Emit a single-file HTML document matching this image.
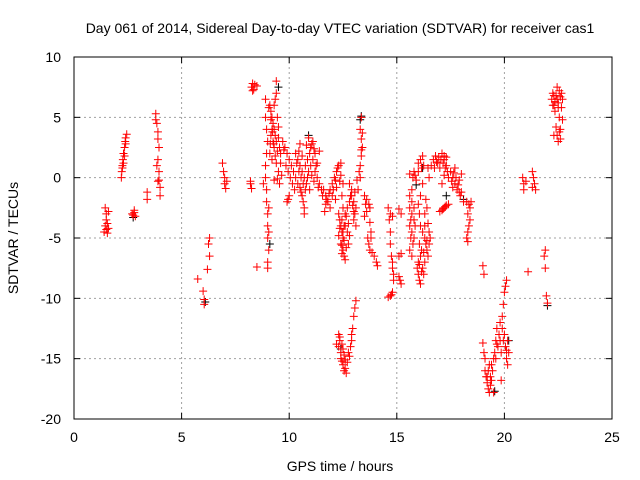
<!DOCTYPE html>
<html><head><meta charset="utf-8"><style>
body{margin:0;background:#fff}
svg{display:block;font-family:"Liberation Sans",sans-serif}
</style></head><body>
<svg id="chart" width="640" height="480" viewBox="0 0 640 480">
<text x="340" y="33" font-size="14" text-anchor="middle">Day 061 of 2014, Sidereal Day-to-day VTEC variation (SDTVAR) for receiver cas1</text>
<text x="340" y="471" font-size="14" text-anchor="middle">GPS time / hours</text>
<text transform="translate(18,238) rotate(-90)" font-size="14" text-anchor="middle">SDTVAR / TECUs</text>
<g id="grid"></g><g id="axes"></g><g id="marks"></g>
</svg>
<script>
const xTicks=[0,5,10,15,20,25];
const yTicks=[10,5,0,-5,-10,-15,-20];
const redPoints=[[1.45,-2.5],[1.5,-3.0],[1.5,-3.5],[1.45,-4.0],[1.5,-4.3],[1.55,-4.6],[1.6,-2.8],[1.55,-3.8],[1.4,-4.5],[1.6,-4.2],
[2.2,0],[2.22,0.5],[2.25,1],[2.27,1.5],[2.3,2],[2.3,1.2],[2.35,2.5],[2.38,3],[2.4,3.3],[2.45,3.6],[2.4,2.8],[2.35,1.8],[2.25,0.8],
[2.7,-3],[2.75,-3.1],[2.8,-2.9],[2.85,-3.2],[2.8,-2.7],[3.4,-1.2],[3.4,-1.8],
[3.8,5.3],[3.8,4.8],[3.85,4.5],[3.9,3.8],[3.9,3.2],[3.95,2.5],[3.9,1.5],[3.95,0.5],[3.95,-0.2],[4.0,-0.8],[4.0,-1.5],[3.85,1.0],[3.9,-0.3],
[5.75,-8.4],[6.0,-9.4],[6.05,-10.1],[6.05,-10.5],[6.2,-7.6],[6.3,-6.5],[6.3,-5.0],[6.25,-5.5],
[6.9,1.2],[6.95,0.5],[7.0,0],[7.0,-0.5],[7.05,-0.9],[7.1,-0.3],
[8.25,7.5],[8.3,7.8],[8.35,7.3],[8.4,7.7],[8.5,7.6],[8.3,7.2],[8.2,-0.5],[8.25,-0.9],[8.2,-0.3],[8.5,-7.4],
[8.9,6.5],[8.9,5],[8.95,4],[9.0,3],[8.95,2],[8.9,1],[8.9,0],[8.95,-1],[8.95,-2],[9.0,-3],[9.0,-4],[9.0,-5],[9.05,-6],[9.0,-7],[9.0,-7.5],[8.8,-0.5],[9.05,-2.5],[9.05,-4.5],
[9.1,6],[9.15,5.5],[9.2,5],[9.25,4.5],[9.3,4],[9.35,3.5],[9.4,3],[9.2,4],[9.15,3.5],[9.25,3],[9.3,2.5],[9.1,2],[9.2,1.5],[9.4,7],[9.4,8],[9.35,6.5],[9.3,6],[9.45,5],[9.5,4.2],[9.5,3.3],[9.55,2.5],[9.6,2],[9.5,0.5],[9.55,-0.5],[9.4,1.2],[9.3,-0.2],
[9.7,3],[9.8,2.5],[9.9,2],[10,1.5],[10.1,1],[10.2,0.5],[9.85,1],[9.95,0.5],[10.05,0],[10.15,-0.5],[10.25,-1],[9.9,-2],[9.95,-1.8],[10.0,-1.5],[9.75,2.3],[10.3,0],
[10.3,2],[10.4,1.5],[10.5,1],[10.6,0.5],[10.7,0],[10.8,-0.5],[10.9,0.5],[11,1],[11.1,1.5],[11.2,2],[11,2.5],[11.1,3],[10.9,3.3],[10.8,2.7],[10.6,1.8],[10.5,-0.8],[10.6,-1.5],[10.65,-2],[10.7,-2.5],[10.7,-3],[11.2,0.5],[11.3,0],[11.4,-0.5],[11.5,-1],[11.3,1.2],[11.4,2.2],[10.4,-0.5],[10.5,2.8],
[11.6,-1],[11.7,-1.5],[11.8,-2],[11.9,-2.5],[11.75,-1.8],[11.65,-2.8],[11.9,-1],[12,-0.5],[12.1,0],[12.2,0.5],[12.3,1],[12.4,1.2],[12.0,-1.5],[12.2,-0.8],[12.4,0.2],[12.5,-0.5],[12.45,-1.5],[12.5,-2.5],
[12.3,-3],[12.35,-3.5],[12.4,-4],[12.45,-4.5],[12.5,-5],[12.4,-5.5],[12.5,-6],[12.55,-6.5],[12.6,-6.8],[12.6,-4],[12.65,-3.2],[12.7,-4.5],[12.75,-5.5],[12.7,-2.5],[12.8,-2],[12.85,-1.5],[12.9,-1],[12.3,-4.8],[12.65,-5.8],
[12.8,-0.5],[12.9,-1.5],[13,-2],[13.05,-3],[13,-3.5],[13.1,-4],[13.1,-2.5],[13.2,-1],[13.3,0],[13.3,1],[13.35,1.8],[13.4,2.5],[13.35,3.2],[13.3,4],[13.35,5],[13.4,3.7],[13.15,-0.2],
[13.5,-1.5],[13.55,-2.2],[13.6,-2.8],[13.5,-3.2],[13.7,-2.2],[13.75,-2.5],[13.75,-3.7],[13.8,-4.5],[13.8,-5],[13.6,-1.8],
[13.65,-5],[13.7,-5.5],[13.75,-6],[13.85,-6.2],[13.95,-6.5],[14.05,-7],[14.1,-7.3],
[14.6,-2.5],[14.7,-3],[14.65,-3.5],[14.7,-4.5],[14.7,-5.5],[14.75,-6.5],[14.8,-7],[14.8,-7.5],[14.85,-8],[14.85,-8.5],[14.8,-9.5],[14.7,-9.8],[14.6,-9.9],[14.75,-9.7],[14.8,-3.2],
[12.3,-13],[12.35,-13.5],[12.3,-14],[12.4,-14.5],[12.4,-15],[12.35,-13.2],[12.5,-15.5],[12.55,-16],[12.6,-15.8],[12.7,-15.3],[12.8,-14.8],[12.85,-14],[12.9,-13.5],[12.95,-12.5],[13.0,-11.5],[13.05,-10.8],[13.1,-10.2],[12.9,-13],[12.2,-13.8],
[15.1,-6.5],[15.2,-6.3],[15.1,-8.2],[15.15,-8.5],[15.2,-8.8],[15.1,-2.6],[15.2,-3],
[15.6,-1.5],[15.7,-2],[15.6,-2.5],[15.7,-3],[15.8,-3.5],[15.6,-4],[15.7,-4.5],[15.8,-5],[15.6,-6],[15.7,-6.5],[15.7,-1],[15.75,0],[15.8,0.5],[15.6,0.3],[15.9,-0.2],[16,0.5],[16,1.2],[16.1,1.5],[16.2,1.8],[16.2,-0.5],[16.1,-1.5],[16.0,-2.2],[16.05,-3],[16.1,-4],[16.2,-4.5],[16.3,-5],[16.35,-5.5],[16.4,-6],[16.45,-6.5],[16.5,-5.5],[16.5,-4.5],[16.55,-5],[16.1,-6.5],[16.0,-7],[15.95,-7.5],[16,-8],[16.05,-8.5],[16.1,-8.8],[16.2,-7.5],[16.3,-7],[16.3,-3],[16.4,-2.5],[16.35,-1.8],[16.5,0],[16.6,1],[16.45,0.8],
[16.7,1.5],[16.8,1.8],[16.9,1.2],[17,0.8],[17.05,1.5],[17.1,2],[17.2,1.5],[17.3,1],[17.35,0.5],[17.4,0],[17.2,0.2],[17.1,-0.5],[17.0,-2.8],[17.1,-2.7],[17.2,-2.5],[17.3,-2.3],[17.4,-2.2],[17.2,1.8],
[17.5,0.5],[17.6,0],[17.7,-0.5],[17.8,-1],[17.9,-0.2],[18.0,0.3],[17.6,-0.8],[17.7,0.8],[17.95,-1.5],[18.0,-1.2],[18.1,-2],
[18.25,-2],[18.35,-2.2],[18.4,-2.5],[18.3,-3],[18.4,-3.5],[18.35,-4],[18.3,-4.5],[18.25,-5],[18.3,-5.3],[18.45,-2],
[19,-7.3],[19.05,-8],[19.0,-13.7],[19.05,-14.5],[19.1,-15],[19.1,-16],[19.15,-16.5],[19.2,-17],[19.25,-17.5],[19.3,-17.8],[19.35,-16.5],[19.4,-15.5],[19.5,-15],[19.55,-14.5],[19.6,-13.5],[19.65,-12.5],[19.7,-14],[19.75,-13],[19.8,-12],[19.9,-11.5],[19.95,-10.5],[20,-9.5],[20.05,-9],[20.1,-8.5],[20.0,-13],[20.05,-14],[20.1,-15],[20.15,-15.5],[20.2,-14.5],[19.5,-17.8],[19.85,-16.8],[19.2,-16.5],[19.3,-15.5],
[20.9,-0.5],[20.85,0],[20.9,-1],[21,-0.3],[21.1,-7.8],[21.3,0.5],[21.35,0],[21.4,-0.5],[21.45,-1],[21.3,-0.8],
[21.9,-6],[21.85,-6.5],[21.9,-7.5],[21.95,-9.8],[22,-10.4],
[22.2,6.5],[22.25,7],[22.3,6],[22.35,5.5],[22.4,6.8],[22.45,7.5],[22.5,6.2],[22.55,5],[22.6,4],[22.6,3.2],[22.7,4.8],[22.65,5.8],[22.4,4.2],[22.3,3.5],[22.5,3],[22.7,6.5],[22.35,6.3],[22.55,7.2]];
const extraRedPoints=[[9.05,5.8],[9.15,4.8],[9.22,3.8],[9.28,2.8],[9.12,2.8],[9.35,1.8],[9.45,2.2],[9.6,1.2],[9.65,0.2],[9.45,-0.1],
[10.35,1.2],[10.45,0.5],[10.55,0],[10.65,-0.5],[10.75,-1],[10.85,1.5],[10.95,2],[11.05,0.2],[11.15,-0.3],[10.85,0],[10.95,-1],[11.25,1],[11.35,-0.8],[10.45,2.2],[10.55,-1.2],[11.15,2.4],[10.75,1],[11.05,2.8],
[11.55,-1.5],[11.7,-2.2],[11.85,-1.3],[12.05,-1],[12.15,-0.2],[12.25,0.8],[12.35,-0.3],[12.15,-1.8],
[12.45,-3.5],[12.55,-4],[12.55,-5.2],[12.45,-6.3],[12.6,-3],[12.75,-3.8],[12.8,-4.8],[12.35,-4.2],[12.5,-4.5],[12.45,-5.6],
[12.95,-2.3],[13.05,-1.2],[13.0,-2.8],[13.25,0.5],[13.35,2.3],
[12.45,-15.2],[12.5,-14.2],[12.6,-15.1],[12.65,-16.2],[12.75,-14.5],[12.45,-13.8],[12.55,-14.7],
[15.65,-3.5],[15.75,-5.5],[15.65,-5],[15.8,-2.5],[15.85,-4],[16.05,-5.5],[16.15,-6],[16.25,-6.2],[16.3,-4],[16.15,-7.8],[16.25,-8],[16.05,-7.2],[16.15,0.8],[16.25,1],[16.4,-5.2],[16.45,-3.8],[15.85,0.2],
[16.75,0.8],[16.85,1.3],[16.95,1.7],[17.15,1.2],[17.25,0.8],[17.3,1.7],[17.15,-2.6],[17.25,-2.4],
[17.55,-0.3],[17.65,0.4],[17.75,0],[17.85,-0.6],[17.9,-1.2],
[19.4,-16.8],[19.35,-17.2],[19.25,-16],[19.45,-16],[19.65,-13.8],[19.8,-13.5],[19.9,-12.5],[19.85,-14.5],[19.95,-13.5],[20.1,-14.3],[20.15,-13.5],[19.6,-15],
[22.25,6],[22.3,6.8],[22.45,6.5],[22.5,5.8],[22.6,6.7],[22.65,7],[22.45,3.5],[22.55,3.8]];
const blackPoints=[[13.3,4.8],[13.35,5.1],[9.1,-5.5],[10.9,3.5],[16.2,0.8],[18.1,-1.8],[19.55,-17.7],[20.2,-13.5],[22.0,-10.6],[6.1,-10.3],[2.75,-3.3],[12.4,-14.2],[15.9,-0.6],[9.5,7.5],[17.3,-1.5]];

const X0=74,X1=612,Y0=419,Y1=57;
const xs=v=>X0+(v-0)/(25-0)*(X1-X0);
const ys=v=>Y0-(v+20)/(30)*(Y0-Y1);
const NS='http://www.w3.org/2000/svg';
function mk(tag,attrs,parent){const e=document.createElementNS(NS,tag);for(const k in attrs)e.setAttribute(k,attrs[k]);parent.appendChild(e);return e;}
const grid=document.getElementById('grid'),axes=document.getElementById('axes'),marks=document.getElementById('marks');
xTicks.forEach(t=>{const x=xs(t);
 if(t>0&&t<25){const g=mk('line',{x1:x,x2:x,y1:Y0,y2:Y1,stroke:'#a0a0a0','stroke-dasharray':'2,3'},grid);
 
 }
 mk('line',{x1:x,x2:x,y1:Y0,y2:Y0-6,stroke:'#000'},axes);
 mk('line',{x1:x,x2:x,y1:Y1,y2:Y1+6,stroke:'#000'},axes);
 const l=mk('text',{x:x,y:442,'font-size':14,'text-anchor':'middle'},axes);l.textContent=t;
 
 });
yTicks.forEach(t=>{const y=ys(t);
 if(t>-20&&t<10){const g=mk('line',{x1:X0,x2:X1,y1:y,y2:y,stroke:'#a0a0a0','stroke-dasharray':'2,3'},grid);
 
 }
 mk('line',{x1:X0,x2:X0+6,y1:y,y2:y,stroke:'#000'},axes);
 mk('line',{x1:X1,x2:X1-6,y1:y,y2:y,stroke:'#000'},axes);
 const l=mk('text',{x:61,y:y+5,'font-size':14,'text-anchor':'end'},axes);l.textContent=t;
 
 });
const fr=mk('rect',{x:X0,y:Y1,width:X1-X0,height:Y0-Y1,fill:'none',stroke:'#000'},axes);


function plus(p,color,name){const x=xs(p[0]),y=ys(p[1]);
 const d=`M${x-4},${y}H${x+4}M${x},${y-4}V${y+4}`;
 const e=mk('path',{d:d,stroke:color,'stroke-width':1,fill:'none'},marks);
 
 }
blackPoints.forEach(p=>plus(p,'#000','black-point'));
redPoints.forEach(p=>plus(p,'#ff0000','red-point'));
extraRedPoints.forEach(p=>plus(p,'#ff0000','red-point'));
</script>
</body></html>
